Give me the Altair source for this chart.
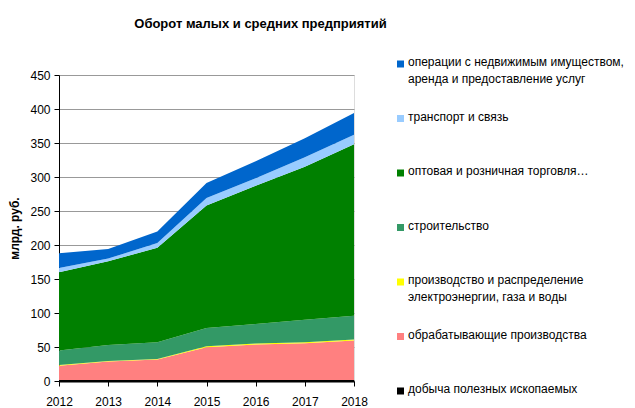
import altair as alt
import pandas as pd

years = [2012, 2013, 2014, 2015, 2016, 2017, 2018]

# stacking order: bottom -> top
categories = [
    "добыча полезных ископаемых",
    "обрабатывающие производства",
    "производство и распределение электроэнергии, газа и воды",
    "строительство",
    "оптовая и розничная торговля…",
    "транспорт и связь",
    "операции с недвижимым имуществом, аренда и предоставление услуг",
]
legend_labels = [
    "добыча полезных ископаемых",
    "обрабатывающие производства",
    "производство и распределение|электроэнергии, газа и воды",
    "строительство",
    "оптовая и розничная торговля…",
    "транспорт и связь",
    "операции с недвижимым имуществом,|аренда и предоставление услуг",
]
colors = ["#000000", "#FF8080", "#FFFF00", "#339966", "#008000", "#99CCFF", "#0066CC"]

mining        = [1.5, 1.5, 1.5, 1.5, 1.5, 1.5, 1.5]
manufacturing = [21, 27, 30, 48, 52, 54, 58]
utilities     = [1, 1, 1, 1.5, 1.5, 1.5, 1.5]
construction  = [21.5, 23.5, 24.5, 27, 29, 33, 35]
trade         = [115, 123, 139, 180, 203, 225, 252]
transport     = [6, 4, 7, 11, 11, 14, 14]
real_estate   = [22, 14, 17, 22, 25, 28, 32]

series = [mining, manufacturing, utilities, construction, trade, transport, real_estate]

rows = []
for i, (cat, vals) in enumerate(zip(categories, series)):
    for y, v in zip(years, vals):
        rows.append({"year": y, "cat": cat, "value": v, "order": i})
df = pd.DataFrame(rows)

leg = pd.DataFrame({"cat": categories, "label": legend_labels})
legend_order = list(reversed(categories))

color_scale = alt.Scale(domain=categories, range=colors)
FONT = "Liberation Sans"

area = alt.Chart(df).mark_area(interpolate="linear", strokeWidth=0).encode(
    x=alt.X("year:Q", scale=alt.Scale(domain=[2012, 2018], nice=False),
            axis=alt.Axis(values=years, format="d", title=None, grid=False,
                          domainColor="#000000", domainWidth=2, tickColor="#000000",
                          tickSize=5, labelPadding=10, labelFontSize=12,
                          labelFlush=False, labelBound=False,
                          labelColor="#000000", labelFont=FONT)),
    y=alt.Y("value:Q", stack="zero", scale=alt.Scale(domain=[0, 450], nice=False),
            axis=alt.Axis(values=list(range(0, 451, 50)), title="млрд. руб.",
                          titleFont=FONT, titleFontSize=12, titleFontWeight="bold",
                          titleColor="#000000", titlePadding=8,
                          grid=True, gridColor="#999999", gridWidth=1,
                          domainColor="#000000", tickColor="#000000", tickSize=5,
                          labelFontSize=12, labelColor="#000000", labelFont=FONT,
                          labelPadding=4)),
    color=alt.Color("cat:N", scale=color_scale, legend=None),
    order=alt.Order("order:Q", sort="ascending"),
)

legend_y = alt.Y("cat:N", sort=legend_order,
                 scale=alt.Scale(type="point", range=[-11, 316], padding=0),
                 axis=None)

squares = alt.Chart(leg).mark_square(size=49, opacity=1, filled=True).encode(
    x=alt.value(341.5),
    y=legend_y,
    color=alt.Color("cat:N", scale=color_scale, legend=None),
)

texts = alt.Chart(leg).mark_text(align="left", baseline="top", dy=-7, lineBreak="|",
                                 fontSize=12, font=FONT, lineHeight=17,
                                 color="#000000").encode(
    x=alt.value(349),
    y=legend_y,
    text="label:N",
)

legend = alt.layer(squares, texts).resolve_scale(y="shared")

chart = alt.layer(area, legend).resolve_scale(y="independent").properties(
    width=295, height=306,
    autosize=alt.AutoSizeParams(type="none"),
    padding={"left": 51, "top": 67, "right": 273, "bottom": 45},
    title=alt.TitleParams("Оборот малых и средних предприятий",
                          font=FONT,
                          fontSize=13, fontWeight="bold", color="#000000",
                          anchor="middle", frame="group", dx=54, offset=25),
).configure_view(stroke="#999999", strokeWidth=1).configure(background="white")

chart.save("out.html", embed_options={"renderer": "svg", "actions": False})
